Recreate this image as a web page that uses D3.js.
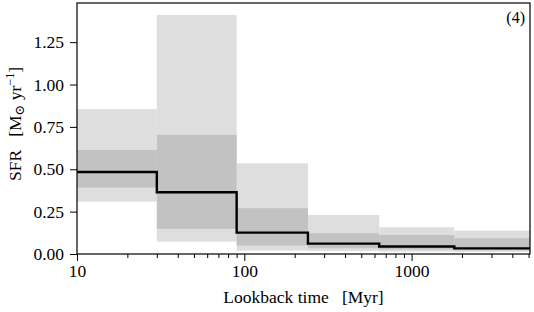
<!DOCTYPE html>
<html><head><meta charset="utf-8">
<script src="https://cdn.jsdelivr.net/npm/d3@7"></script>
<style>body{margin:0;background:#fff}svg{display:block}text{font-family:"Liberation Serif","DejaVu Serif",serif;fill:#000}</style>
</head><body><svg id="c" width="534" height="312"></svg>
<script>
const binEdges = [10, 30, 90, 240, 640, 1800, 5100];
const sfrMedian = [0.484, 0.364, 0.126, 0.061, 0.044, 0.033];
const darkLow = [0.392, 0.148, 0.050, 0.034, 0.026, 0.022];
const darkHigh = [0.614, 0.703, 0.270, 0.122, 0.112, 0.093];
const lightLow = [0.309, 0.073, 0.020, 0.018, 0.014, 0.012];
const lightHigh = [0.855, 1.410, 0.535, 0.230, 0.158, 0.138];
const xTickVals = [10, 100, 1000];
const yTickVals = [0, 0.25, 0.5, 0.75, 1.0, 1.25];
const panelLabel = "(4)";

const svg = d3.select("#c");
const L = 77, R = 530, T = 3, B = 254;
const x = d3.scaleLog().domain([10, 5100]).range([L, R]);
const y = d3.scaleLinear().domain([0, 1.481]).range([B, T]);

const bins = sfrMedian.map((m, i) => ({x0: binEdges[i], x1: binEdges[i+1], m, dl: darkLow[i], dh: darkHigh[i], ll: lightLow[i], lh: lightHigh[i]}));

const g = svg.append("g");
g.selectAll("rect.light").data(bins).enter().append("rect")
  .attr("x", d => x(d.x0)).attr("width", d => x(d.x1) - x(d.x0))
  .attr("y", d => y(d.lh)).attr("height", d => y(d.ll) - y(d.lh))
  .attr("fill", "#dedede");
g.selectAll("rect.dark").data(bins).enter().append("rect")
  .attr("x", d => x(d.x0)).attr("width", d => x(d.x1) - x(d.x0))
  .attr("y", d => y(d.dh)).attr("height", d => y(d.dl) - y(d.dh))
  .attr("fill", "#c2c2c2");

const pts = [];
bins.forEach(d => { pts.push([x(d.x0), y(d.m)]); pts.push([x(d.x1), y(d.m)]); });
g.append("path").attr("d", d3.line()(pts)).attr("fill", "none")
  .attr("stroke", "#000").attr("stroke-width", 2.4).attr("stroke-linejoin", "miter");

const fs = 17.5;
const xAxis = d3.axisBottom(x).tickValues(xTickVals).tickFormat(d3.format("d")).tickSize(7).tickPadding(4);
const minor = [];
for (let dec = 10; dec < 5100; dec *= 10) for (let k = 2; k <= 9; k++) if (dec*k < 5100) minor.push(dec*k);
const xa = svg.append("g").attr("transform", `translate(0,${B})`).call(xAxis);
svg.append("g").attr("transform", `translate(0,${B})`)
  .call(d3.axisBottom(x).tickValues(minor).tickFormat("").tickSize(4))
  .call(s => s.select(".domain").remove());
const ya = svg.append("g").attr("transform", `translate(${L},0)`)
  .call(d3.axisLeft(y).tickValues(yTickVals).tickFormat(d3.format(".2f")).tickSize(7).tickPadding(6));
[xa, ya].forEach(a => { a.selectAll("text").style("font-size", fs + "px").style("font-family", '"Liberation Serif",serif'); a.select(".domain").remove(); });
svg.selectAll(".tick line").attr("stroke", "#000").attr("stroke-width", 1);

svg.append("rect").attr("x", L).attr("y", T).attr("width", R - L).attr("height", B - T)
  .attr("fill", "none").attr("stroke", "#000").attr("stroke-width", 1.2);

svg.append("text").attr("x", R - 5).attr("y", 23).attr("text-anchor", "end").style("font-size", "16px").text(panelLabel);

svg.append("text").attr("x", (L + R) / 2).attr("y", 303).attr("text-anchor", "middle").style("font-size", fs + "px")
  .attr("xml:space", "preserve").text("Lookback time   [Myr]");

const yl = svg.append("text").attr("transform", `translate(21,124) rotate(-90)`).attr("text-anchor", "middle").style("font-size", fs + "px").attr("xml:space", "preserve");
yl.append("tspan").text("SFR   [M");
yl.append("tspan").attr("dy", 3).style("font-size", "13px").text("⊙");
yl.append("tspan").attr("dy", -3).text(" yr");
yl.append("tspan").attr("dy", -7).style("font-size", "12px").text("−1");
yl.append("tspan").attr("dy", 7).text("]");
</script></body></html>
